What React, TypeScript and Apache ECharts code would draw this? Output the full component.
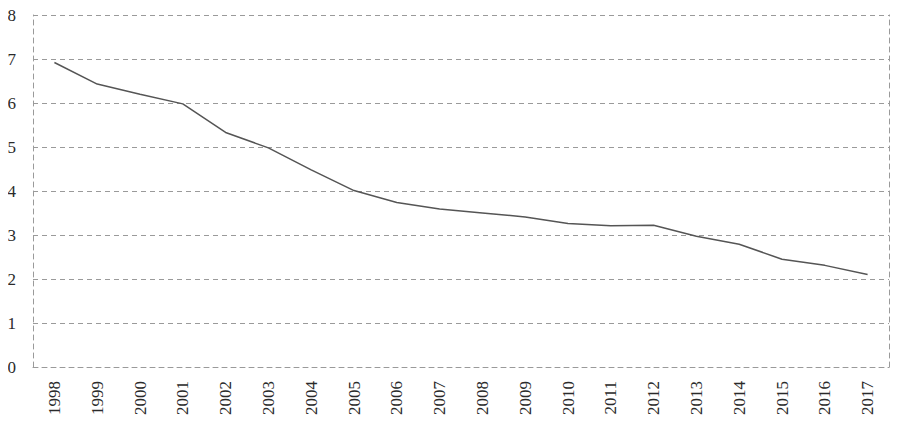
import React, { useEffect, useRef } from "react";
import * as echarts from "echarts";

const categories = [
  "1998", "1999", "2000", "2001", "2002", "2003", "2004", "2005", "2006", "2007",
  "2008", "2009", "2010", "2011", "2012", "2013", "2014", "2015", "2016", "2017",
];
const values = [
  6.92, 6.43, 6.2, 5.98, 5.33, 4.98, 4.48, 4.01, 3.74, 3.59,
  3.5, 3.41, 3.26, 3.21, 3.22, 2.97, 2.79, 2.45, 2.31, 2.1,
];
const yTicks = [0, 1, 2, 3, 4, 5, 6, 7, 8];

export default function App() {
  const ref = useRef<HTMLDivElement>(null);
  useEffect(() => {
    if (!ref.current) return;
    const chart = echarts.init(ref.current, null, { renderer: "svg" });
    const dashed = { color: "#9a9a9a", width: 1, type: [5, 4] as any };
    const font = "'Liberation Serif', 'Times New Roman', serif";
    chart.setOption({
      animation: false,
      backgroundColor: "#ffffff",
      grid: { left: 33, right: 11, top: 15, bottom: 60, containLabel: false },
      xAxis: {
        type: "category",
        data: categories,
        boundaryGap: true,
        axisLine: { show: true, lineStyle: dashed },
        axisTick: { show: false },
        axisLabel: {
          rotate: 90,
          margin: 14,
          fontFamily: font,
          fontSize: 17,
          color: "#2a2a2a",
          interval: 0,
        },
        splitLine: { show: false },
      },
      yAxis: [
        {
          type: "value",
          min: yTicks[0],
          max: yTicks[yTicks.length - 1],
          interval: 1,
          axisLine: { show: true, lineStyle: dashed },
          axisTick: { show: false },
          axisLabel: {
            margin: 17,
            fontFamily: font,
            fontSize: 17,
            color: "#2a2a2a",
          },
          splitLine: { show: true, lineStyle: dashed },
        },
        {
          type: "value",
          position: "right",
          min: yTicks[0],
          max: yTicks[yTicks.length - 1],
          interval: 1,
          axisLine: { show: true, lineStyle: dashed },
          axisTick: { show: false },
          axisLabel: { show: false },
          splitLine: { show: false },
        },
      ],
      series: [
        {
          type: "line",
          data: values,
          yAxisIndex: 0,
          symbol: "none",
          lineStyle: { color: "#555555", width: 1.5 },
        },
      ],
    });
    return () => chart.dispose();
  }, []);
  return <div ref={ref} style={{ width: 900, height: 427, margin: -8 }} />;
}
